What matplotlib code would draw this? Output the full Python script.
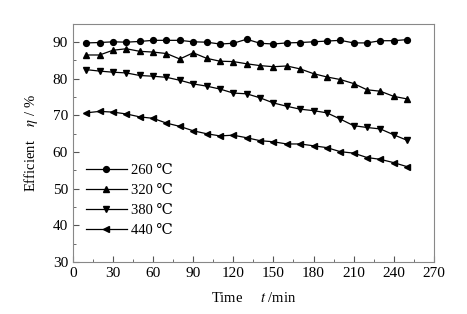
import numpy as np
import matplotlib.pyplot as plt
from matplotlib.ticker import MultipleLocator

plt.rcParams['font.family'] = ['Liberation Serif', 'DejaVu Serif']
plt.rcParams['mathtext.fontset'] = 'stix'

# data
time = [10, 20, 30, 40, 50, 60, 70, 80, 90, 100, 110, 120, 130,
        140, 150, 160, 170, 180, 190, 200, 210, 220, 230, 240, 250]
eff_260 = [89.8, 89.9, 90.1, 90.0, 90.2, 90.5, 90.5, 90.5, 90.1, 90.0, 89.5, 89.7, 90.8,
           89.7, 89.5, 89.8, 89.9, 90.1, 90.3, 90.5, 89.8, 89.8, 90.4, 90.4, 90.7]
eff_320 = [86.5, 86.5, 87.8, 88.2, 87.5, 87.3, 86.9, 85.4, 87.1, 85.6, 84.8, 84.7, 84.1,
           83.6, 83.3, 83.5, 82.7, 81.4, 80.5, 79.8, 78.7, 77.0, 76.6, 75.2, 74.5]
eff_380 = [82.5, 82.1, 81.8, 81.6, 80.9, 80.7, 80.4, 79.6, 78.6, 78.0, 77.2, 76.1, 75.9,
           74.8, 73.4, 72.5, 71.7, 71.3, 70.7, 69.0, 67.2, 66.7, 66.3, 64.7, 63.2]
eff_440 = [70.7, 71.1, 70.9, 70.4, 69.6, 69.2, 67.9, 67.0, 65.8, 65.0, 64.4, 64.6, 63.9,
           63.1, 62.8, 62.2, 62.2, 61.7, 61.2, 60.1, 59.7, 58.5, 58.0, 57.1, 56.0]
labels = ["260 \u2103", "320 \u2103", "380 \u2103", "440 \u2103"]
markers = ['o', '^', 'v', '<']

fig = plt.figure(figsize=(4.67, 3.14), dpi=100)
ax = fig.add_axes([0.156, 0.166, 0.773, 0.758])

for y, m, lab in zip([eff_260, eff_320, eff_380, eff_440], markers, labels):
    ax.plot(time, y, color='black', marker=m, markersize=4.2, linewidth=0.9, label=lab)

ax.set_xlim(0, 270)
ax.set_ylim(30, 95)
ax.xaxis.set_major_locator(MultipleLocator(30))
ax.xaxis.set_minor_locator(MultipleLocator(15))
ax.yaxis.set_major_locator(MultipleLocator(10))
ax.yaxis.set_minor_locator(MultipleLocator(5))
ax.tick_params(which='both', direction='in', top=False, right=False, labelsize=11, color='#555555')
ax.tick_params(which='major', length=4)
ax.tick_params(which='minor', length=2.5)
for s in ax.spines.values():
    s.set_color('#888888')
    s.set_linewidth(0.8)

ax.set_xlabel(r"Time     $\mathit{t}$ /min", fontsize=10.5, labelpad=8)
ax.set_ylabel(r"Efficient    $\mathit{\eta}$ / %", fontsize=10.5, labelpad=9)

ax.legend(loc='upper left', bbox_to_anchor=(0.02, 0.435), frameon=False, fontsize=10.5,
          handlelength=2.8, labelspacing=0.45, handletextpad=0.3, borderaxespad=0)

fig.savefig('out.png', dpi=100)
